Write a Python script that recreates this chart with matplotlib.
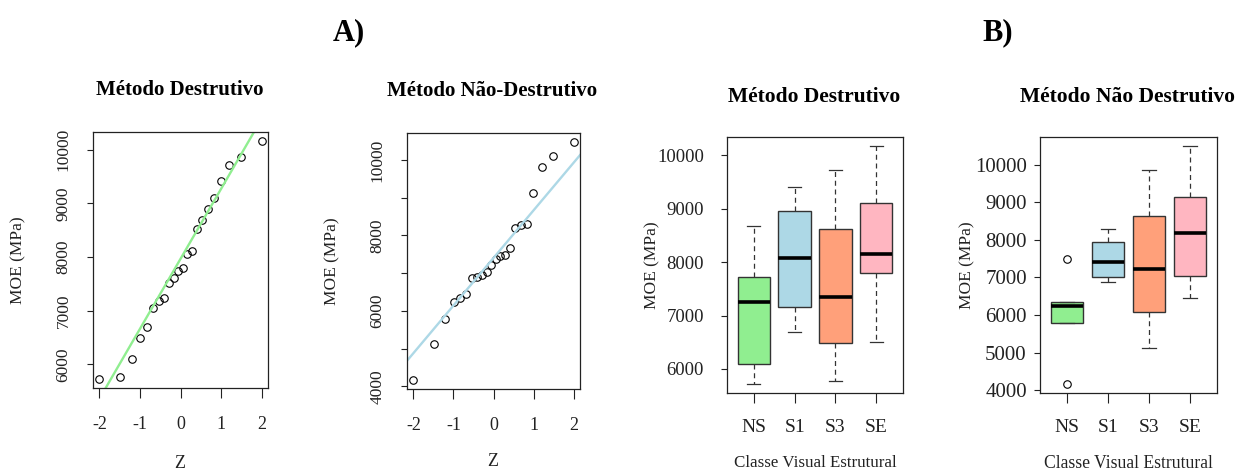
from statistics import NormalDist

import numpy as np
import matplotlib
matplotlib.use('Agg')
import matplotlib.pyplot as plt

# valores (MOE em MPa)
moe_destrutivo = [5734, 5771, 6093, 6484, 6694, 7055, 7178, 7241, 7520, 7613, 7730,
                  7786, 8052, 8118, 8525, 8685, 8897, 9094, 9410, 9721, 9864, 10154]
moe_nao_destrutivo = [4184, 5125, 5792, 6248, 6353, 6451, 6864, 6906, 6951, 7022, 7215,
                      7365, 7465, 7491, 7671, 8190, 8277, 8303, 9130, 9823, 10113, 10464]

classes = ["NS", "S1", "S3", "SE"]
cores_classes = ["#90EE90", "#ADD8E6", "#FFA07A", "#FFB6C1"]

# boxplot - método destrutivo
d_min = [5726, 6697, 5782, 6504]
d_q1 = [6100, 7157, 6485, 7804]
d_med = [7257, 8071, 7356, 8146]
d_q3 = [7729, 8961, 8625, 9110]
d_max = [8687, 9409, 9732, 10168]
d_out = [[], [], [], []]

# boxplot - método não destrutivo
nd_min = [5785, 6890, 5114, 6466]
nd_q1 = [5785, 7022, 6077, 7040]
nd_med = [6245, 7420, 7225, 8189]
nd_q3 = [6351, 7950, 8639, 9143]
nd_max = [6351, 8277, 9850, 10486]
nd_out = [[4177, 7490], [], [], []]

W, H = 1246, 474
COR_EIXO = "#222222"

plt.rcParams['font.family'] = ['Liberation Serif', 'DejaVu Serif']
plt.rcParams['axes.unicode_minus'] = False


def caixa(x0, y0, x1, y1):
    return [x0 / W, 1 - y1 / H, (x1 - x0) / W, (y1 - y0) / H]


def texto(fig, x, y, s, **kw):
    fig.text(x / W, 1 - y / H, s, ha='center', va='center', **kw)


def lim_r(valores):
    lo, hi = min(valores), max(valores)
    d = (hi - lo) * 0.04
    return lo - d, hi + d


def estilo_eixo(ax):
    for sp in ax.spines.values():
        sp.set_color(COR_EIXO)
        sp.set_linewidth(0.9)


def painel_qq(fig, pos, valores, cor, yticks, rotulos, fs_tick, pad_y, pad_x):
    ax = fig.add_axes(caixa(*pos))
    y = np.sort(valores)
    n = len(y)
    a = 0.5 if n > 10 else 3 / 8
    nd = NormalDist()
    z = np.array([nd.inv_cdf((i + 1 - a) / (n + 1 - 2 * a)) for i in range(n)])
    ax.plot(z, y, 'o', mfc='none', mec='black', ms=5.4, mew=0.8)

    # linha de referência pelos quartis (qqline)
    q1, q3 = np.quantile(y, [0.25, 0.75])
    z1, z3 = nd.inv_cdf(0.25), nd.inv_cdf(0.75)
    inclinacao = (q3 - q1) / (z3 - z1)
    intercepto = q1 - inclinacao * z1
    xs = np.array([-3.0, 3.0])
    ax.plot(xs, intercepto + inclinacao * xs, color=cor, lw=1.7)

    ax.set_xlim(*lim_r(z))
    ax.set_ylim(*lim_r(y))
    ax.set_xticks([-2, -1, 0, 1, 2])
    ax.set_xticklabels(["-2", "-1", "0", "1", "2"])
    ax.set_yticks(yticks)
    ax.set_yticklabels(rotulos, rotation=90, va='center')
    ax.tick_params(axis='y', length=4.5, width=0.8, color=COR_EIXO,
                   labelsize=fs_tick, pad=pad_y, labelcolor=COR_EIXO)
    ax.tick_params(axis='x', length=7, width=0.8, color=COR_EIXO,
                   labelsize=fs_tick + 0.5, pad=pad_x, labelcolor=COR_EIXO)
    estilo_eixo(ax)
    return ax


def painel_box(fig, pos, mins, q1s, meds, q3s, maxs, outs, yticks, fs_y, pad_y):
    ax = fig.add_axes(caixa(*pos))
    stats = []
    for i in range(len(classes)):
        stats.append(dict(whislo=mins[i], q1=q1s[i], med=meds[i], q3=q3s[i],
                          whishi=maxs[i], fliers=outs[i]))
    bp = ax.bxp(stats, positions=[1, 2, 3, 4], widths=0.8, capwidths=0.32,
                patch_artist=True, showfliers=True,
                boxprops=dict(edgecolor="#333333", linewidth=1.0),
                medianprops=dict(color='black', linewidth=2.6, solid_capstyle='butt'),
                whiskerprops=dict(color="#333333", linewidth=0.9, linestyle=(0, (4, 3))),
                capprops=dict(color="#333333", linewidth=0.9),
                flierprops=dict(marker='o', mfc='none', mec='black', ms=5.4, mew=0.8))
    for patch, cor in zip(bp['boxes'], cores_classes):
        patch.set_facecolor(cor)

    todos = mins + maxs + [v for o in outs for v in o]
    ax.set_ylim(*lim_r(todos))
    ax.set_xlim(*lim_r([0.5, 4.5]))
    ax.set_xticks([1, 2, 3, 4])
    ax.set_xticklabels(classes)
    ax.set_yticks(yticks)
    ax.set_yticklabels([str(v) for v in yticks])
    ax.tick_params(axis='y', length=4.5, width=0.8, color=COR_EIXO,
                   labelsize=fs_y, pad=pad_y, labelcolor=COR_EIXO)
    ax.tick_params(axis='x', length=7, width=0.8, color=COR_EIXO,
                   labelsize=14, pad=12, labelcolor=COR_EIXO)
    estilo_eixo(ax)
    return ax


fig = plt.figure(figsize=(W / 100, H / 100), dpi=100)

# A) gráficos de probabilidade normal
ticks1 = list(range(6000, 10001, 1000))
painel_qq(fig, (93, 132, 268, 388), moe_destrutivo, "#90EE90",
          ticks1, [str(v) for v in ticks1], 12.5, 11, 13)
ticks2 = list(range(4000, 10001, 1000))
painel_qq(fig, (407, 133, 580, 389), moe_nao_destrutivo, "#ADD8E6",
          ticks2, [str(v) if v % 2000 == 0 else "" for v in ticks2], 12.5, 11, 13)

# B) boxplots por classe visual
painel_box(fig, (727, 137, 903, 393), d_min, d_q1, d_med, d_q3, d_max, d_out,
           list(range(6000, 10001, 1000)), 13.5, 12)
painel_box(fig, (1040, 137, 1217, 393), nd_min, nd_q1, nd_med, nd_q3, nd_max, nd_out,
           list(range(4000, 10001, 1000)), 15, 5)

# títulos e rótulos
texto(fig, 349, 33, "A)", fontsize=22, fontweight='bold')
texto(fig, 998, 33, "B)", fontsize=22, fontweight='bold')

texto(fig, 180, 90, "Método Destrutivo", fontsize=15, fontweight='bold')
texto(fig, 492, 91, "Método Não-Destrutivo", fontsize=15, fontweight='bold')
texto(fig, 814, 97, "Método Destrutivo", fontsize=15.5, fontweight='bold')
texto(fig, 1127, 97, "Método Não Destrutivo", fontsize=15.5, fontweight='bold')

for x, y in [(18, 260), (332, 261), (652, 265), (967, 265)]:
    texto(fig, x, y, "MOE (MPa)", fontsize=12.5, rotation=90, color=COR_EIXO)

texto(fig, 180, 463, "Z", fontsize=13, color=COR_EIXO)
texto(fig, 493, 461, "Z", fontsize=13, color=COR_EIXO)
texto(fig, 815, 463, "Classe Visual Estrutural", fontsize=12.2, color=COR_EIXO)
texto(fig, 1128, 463, "Classe Visual Estrutural", fontsize=12.7, color=COR_EIXO)

fig.savefig("out.png", dpi=100)
